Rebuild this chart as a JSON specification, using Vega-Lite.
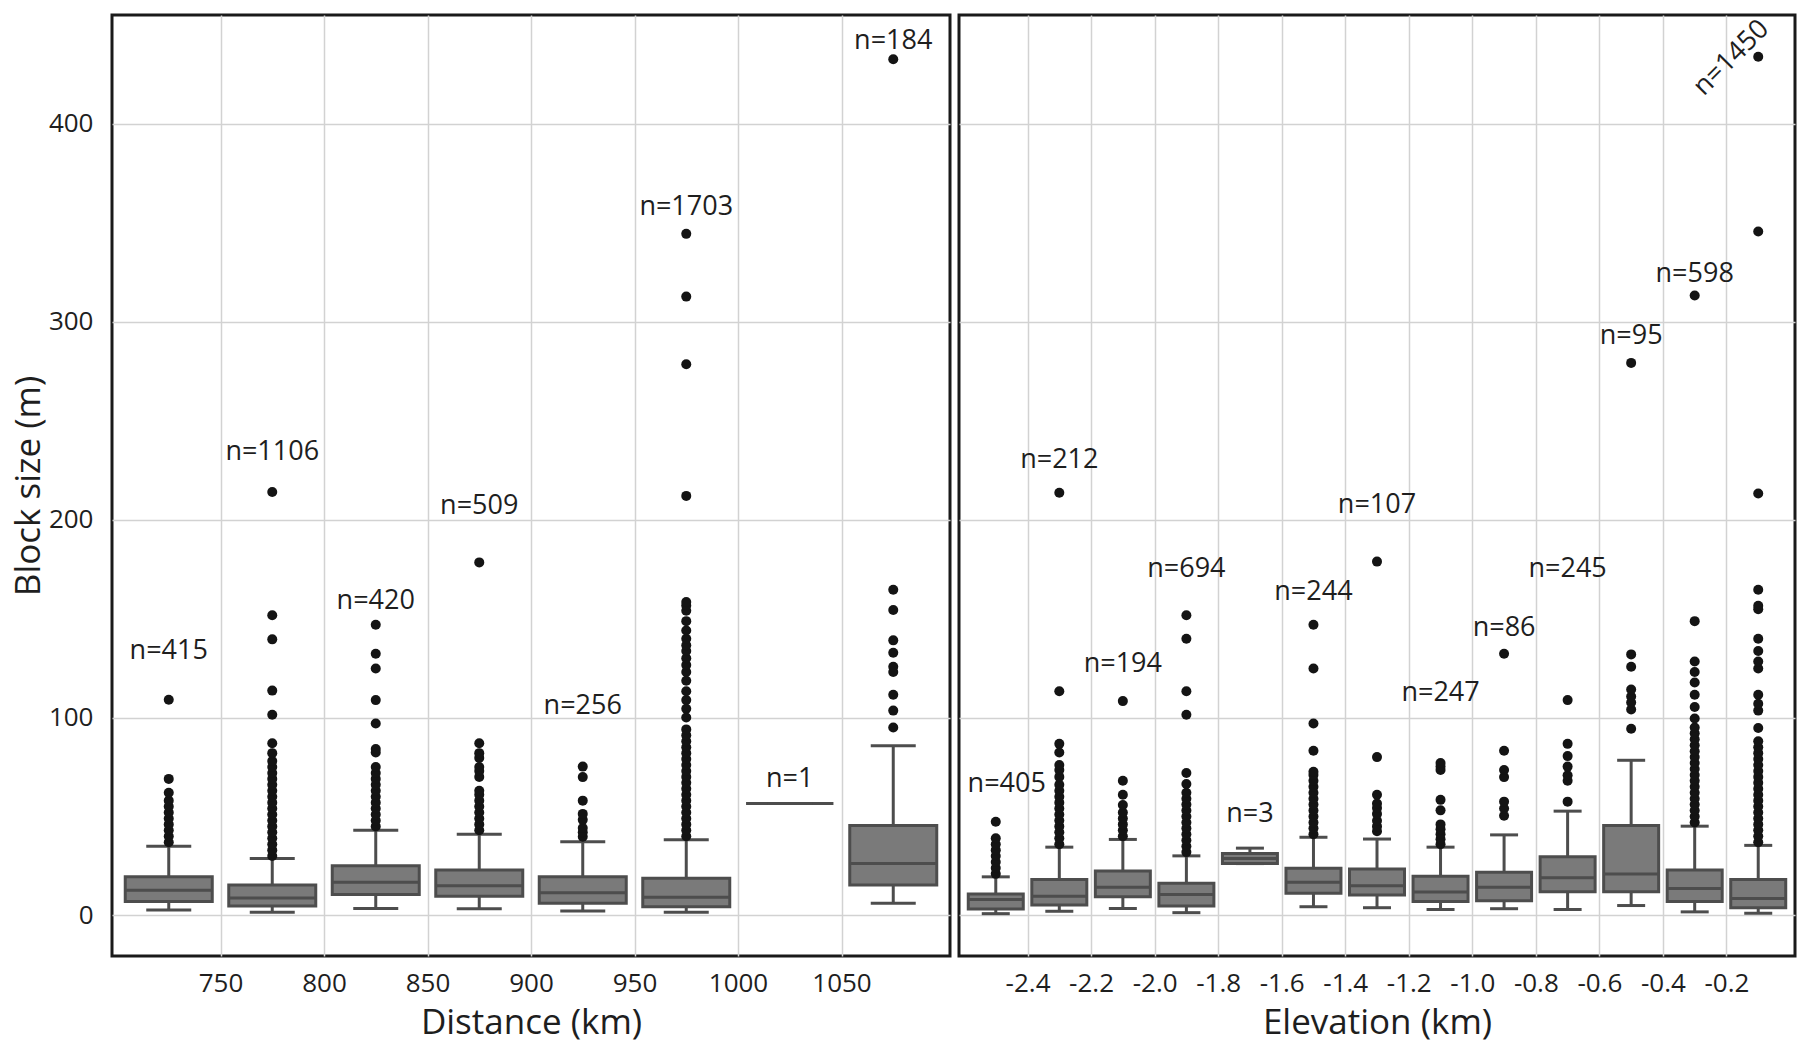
{
  "$schema": "https://vega.github.io/schema/vega-lite/v6.json",
  "background": "white",
  "padding": {"left": 9, "top": 13, "right": 0, "bottom": 0},
  "config": {
    "view": {"stroke": "#1a1a1a", "strokeWidth": 3},
    "font": "Open Sans",
    "axis": {"grid": true, "gridColor": "#d2d2d2", "gridWidth": 1.5, "domain": false, "ticks": false, "labelFont": "Open Sans", "labelFontSize": 26, "labelColor": "#1e1e1e", "titleFont": "Open Sans", "titleFontSize": 35, "titleFontWeight": "normal", "titleColor": "#1e1e1e"},
    "concat": {"spacing": 5}
  },
  "datasets": {
    "boxL": [
      {"pos": 725, "lo": 2.7, "q1": 7.1, "med": 12.7, "q3": 19.5, "hi": 34.9},
      {"pos": 775, "lo": 1.6, "q1": 4.8, "med": 8.8, "q3": 15.4, "hi": 28.8},
      {"pos": 825, "lo": 3.5, "q1": 10.6, "med": 16.8, "q3": 25.1, "hi": 43},
      {"pos": 875, "lo": 3.4, "q1": 9.7, "med": 15, "q3": 23, "hi": 41},
      {"pos": 925, "lo": 2.3, "q1": 6.2, "med": 11.5, "q3": 19.5, "hi": 37.2},
      {"pos": 975, "lo": 1.6, "q1": 4.4, "med": 9.2, "q3": 18.8, "hi": 38.2},
      {"pos": 1025, "lo": 56.5, "q1": 56.5, "med": 56.5, "q3": 56.5, "hi": 56.5},
      {"pos": 1075, "lo": 6.2, "q1": 15.4, "med": 26.2, "q3": 45.5, "hi": 85.8}
    ],
    "outL": [
      {"pos": 725, "v": 37}, {"pos": 725, "v": 40}, {"pos": 725, "v": 43}, {"pos": 725, "v": 46}, {"pos": 725, "v": 49}, {"pos": 725, "v": 52}, {"pos": 725, "v": 55}, {"pos": 725, "v": 58}, {"pos": 725, "v": 62}, {"pos": 725, "v": 69}, {"pos": 725, "v": 109},
      {"pos": 775, "v": 30}, {"pos": 775, "v": 33}, {"pos": 775, "v": 36}, {"pos": 775, "v": 39}, {"pos": 775, "v": 42}, {"pos": 775, "v": 45}, {"pos": 775, "v": 48}, {"pos": 775, "v": 51}, {"pos": 775, "v": 54}, {"pos": 775, "v": 57}, {"pos": 775, "v": 60}, {"pos": 775, "v": 63}, {"pos": 775, "v": 66}, {"pos": 775, "v": 69}, {"pos": 775, "v": 72}, {"pos": 775, "v": 75}, {"pos": 775, "v": 78}, {"pos": 775, "v": 82}, {"pos": 775, "v": 87}, {"pos": 775, "v": 101.4}, {"pos": 775, "v": 113.6}, {"pos": 775, "v": 139.5}, {"pos": 775, "v": 151.7}, {"pos": 775, "v": 214},
      {"pos": 825, "v": 45}, {"pos": 825, "v": 48}, {"pos": 825, "v": 51}, {"pos": 825, "v": 54}, {"pos": 825, "v": 57}, {"pos": 825, "v": 60}, {"pos": 825, "v": 63}, {"pos": 825, "v": 66}, {"pos": 825, "v": 69}, {"pos": 825, "v": 72}, {"pos": 825, "v": 75}, {"pos": 825, "v": 82.3}, {"pos": 825, "v": 84.1}, {"pos": 825, "v": 97}, {"pos": 825, "v": 108.8}, {"pos": 825, "v": 124.8}, {"pos": 825, "v": 132.2}, {"pos": 825, "v": 146.9},
      {"pos": 875, "v": 43}, {"pos": 875, "v": 46}, {"pos": 875, "v": 49}, {"pos": 875, "v": 52}, {"pos": 875, "v": 55}, {"pos": 875, "v": 58}, {"pos": 875, "v": 61}, {"pos": 875, "v": 63}, {"pos": 875, "v": 70}, {"pos": 875, "v": 73}, {"pos": 875, "v": 75}, {"pos": 875, "v": 79.6}, {"pos": 875, "v": 82}, {"pos": 875, "v": 87}, {"pos": 875, "v": 178.4},
      {"pos": 925, "v": 39.8}, {"pos": 925, "v": 42}, {"pos": 925, "v": 44.2}, {"pos": 925, "v": 48.3}, {"pos": 925, "v": 51.3}, {"pos": 925, "v": 58}, {"pos": 925, "v": 69.9}, {"pos": 925, "v": 75.2},
      {"pos": 975, "v": 40}, {"pos": 975, "v": 43}, {"pos": 975, "v": 46}, {"pos": 975, "v": 49}, {"pos": 975, "v": 52}, {"pos": 975, "v": 55}, {"pos": 975, "v": 58}, {"pos": 975, "v": 61}, {"pos": 975, "v": 64}, {"pos": 975, "v": 67}, {"pos": 975, "v": 70}, {"pos": 975, "v": 73}, {"pos": 975, "v": 76}, {"pos": 975, "v": 79}, {"pos": 975, "v": 82}, {"pos": 975, "v": 85}, {"pos": 975, "v": 88}, {"pos": 975, "v": 91}, {"pos": 975, "v": 94}, {"pos": 975, "v": 100}, {"pos": 975, "v": 104.4}, {"pos": 975, "v": 108.8}, {"pos": 975, "v": 113.3}, {"pos": 975, "v": 118.6}, {"pos": 975, "v": 123}, {"pos": 975, "v": 126.5}, {"pos": 975, "v": 130}, {"pos": 975, "v": 133.6}, {"pos": 975, "v": 136.5}, {"pos": 975, "v": 139.8}, {"pos": 975, "v": 144}, {"pos": 975, "v": 148.7}, {"pos": 975, "v": 154}, {"pos": 975, "v": 156.6}, {"pos": 975, "v": 158.4}, {"pos": 975, "v": 212}, {"pos": 975, "v": 278.5}, {"pos": 975, "v": 312.7}, {"pos": 975, "v": 344.4},
      {"pos": 1075, "v": 95}, {"pos": 1075, "v": 103.5}, {"pos": 1075, "v": 111.5}, {"pos": 1075, "v": 123}, {"pos": 1075, "v": 125.7}, {"pos": 1075, "v": 132.7}, {"pos": 1075, "v": 139}, {"pos": 1075, "v": 154.3}, {"pos": 1075, "v": 164.6}, {"pos": 1075, "v": 432.6}
    ],
    "labL": [
      {"pos": 725, "label": "n=415", "ly": 133.7},
      {"pos": 775, "label": "n=1106", "ly": 234},
      {"pos": 825, "label": "n=420", "ly": 158.7},
      {"pos": 875, "label": "n=509", "ly": 206.8},
      {"pos": 925, "label": "n=256", "ly": 105.9},
      {"pos": 975, "label": "n=1703", "ly": 358.2},
      {"pos": 1025, "label": "n=1", "ly": 68.7},
      {"pos": 1075, "label": "n=184", "ly": 441.7}
    ],
    "boxR": [
      {"pos": -2.5, "lo": 0.9, "q1": 3.2, "med": 8, "q3": 10.8, "hi": 19.5},
      {"pos": -2.3, "lo": 2.1, "q1": 5.3, "med": 9.7, "q3": 18.2, "hi": 34.5},
      {"pos": -2.1, "lo": 3.5, "q1": 9.4, "med": 14.2, "q3": 22.5, "hi": 38.4},
      {"pos": -1.9, "lo": 1.4, "q1": 4.8, "med": 10.6, "q3": 16.3, "hi": 30.1},
      {"pos": -1.7, "lo": 26.2, "q1": 26.2, "med": 28.8, "q3": 31.3, "hi": 34},
      {"pos": -1.5, "lo": 4.4, "q1": 11.2, "med": 16.8, "q3": 23.9, "hi": 39.5},
      {"pos": -1.3, "lo": 3.9, "q1": 10.3, "med": 15, "q3": 23.4, "hi": 38.6},
      {"pos": -1.1, "lo": 3, "q1": 7.1, "med": 11.9, "q3": 19.8, "hi": 34.5},
      {"pos": -0.9, "lo": 3.4, "q1": 7.4, "med": 14.2, "q3": 21.8, "hi": 40.7},
      {"pos": -0.7, "lo": 3, "q1": 12, "med": 19.1, "q3": 29.7, "hi": 52.7},
      {"pos": -0.5, "lo": 5, "q1": 12, "med": 20.9, "q3": 45.5, "hi": 78.4},
      {"pos": -0.3, "lo": 1.8, "q1": 7.1, "med": 13.6, "q3": 23, "hi": 45.1},
      {"pos": -0.1, "lo": 1.1, "q1": 3.9, "med": 8.5, "q3": 18.1, "hi": 35.4}
    ],
    "outR": [
      {"pos": -2.5, "v": 21}, {"pos": -2.5, "v": 24}, {"pos": -2.5, "v": 27}, {"pos": -2.5, "v": 30}, {"pos": -2.5, "v": 33}, {"pos": -2.5, "v": 36}, {"pos": -2.5, "v": 39}, {"pos": -2.5, "v": 47.3},
      {"pos": -2.3, "v": 36}, {"pos": -2.3, "v": 39}, {"pos": -2.3, "v": 42}, {"pos": -2.3, "v": 45}, {"pos": -2.3, "v": 48}, {"pos": -2.3, "v": 51}, {"pos": -2.3, "v": 54}, {"pos": -2.3, "v": 57}, {"pos": -2.3, "v": 60}, {"pos": -2.3, "v": 63}, {"pos": -2.3, "v": 66}, {"pos": -2.3, "v": 70}, {"pos": -2.3, "v": 73.5}, {"pos": -2.3, "v": 76}, {"pos": -2.3, "v": 82.3}, {"pos": -2.3, "v": 86.7}, {"pos": -2.3, "v": 113.3}, {"pos": -2.3, "v": 213.6},
      {"pos": -2.1, "v": 40}, {"pos": -2.1, "v": 43}, {"pos": -2.1, "v": 46}, {"pos": -2.1, "v": 49}, {"pos": -2.1, "v": 52}, {"pos": -2.1, "v": 55.8}, {"pos": -2.1, "v": 61}, {"pos": -2.1, "v": 68.1}, {"pos": -2.1, "v": 108.3},
      {"pos": -1.9, "v": 32}, {"pos": -1.9, "v": 35}, {"pos": -1.9, "v": 38}, {"pos": -1.9, "v": 41}, {"pos": -1.9, "v": 44}, {"pos": -1.9, "v": 47}, {"pos": -1.9, "v": 50}, {"pos": -1.9, "v": 53}, {"pos": -1.9, "v": 56}, {"pos": -1.9, "v": 59}, {"pos": -1.9, "v": 62}, {"pos": -1.9, "v": 66.4}, {"pos": -1.9, "v": 72}, {"pos": -1.9, "v": 101.4}, {"pos": -1.9, "v": 113.3}, {"pos": -1.9, "v": 139.8}, {"pos": -1.9, "v": 151.7},
      {"pos": -1.5, "v": 41}, {"pos": -1.5, "v": 44}, {"pos": -1.5, "v": 47}, {"pos": -1.5, "v": 50}, {"pos": -1.5, "v": 53}, {"pos": -1.5, "v": 56}, {"pos": -1.5, "v": 59}, {"pos": -1.5, "v": 62}, {"pos": -1.5, "v": 65}, {"pos": -1.5, "v": 68}, {"pos": -1.5, "v": 71}, {"pos": -1.5, "v": 72.6}, {"pos": -1.5, "v": 83.2}, {"pos": -1.5, "v": 97}, {"pos": -1.5, "v": 124.8}, {"pos": -1.5, "v": 146.9},
      {"pos": -1.3, "v": 42.5}, {"pos": -1.3, "v": 45}, {"pos": -1.3, "v": 47.8}, {"pos": -1.3, "v": 51.3}, {"pos": -1.3, "v": 54.3}, {"pos": -1.3, "v": 56.6}, {"pos": -1.3, "v": 61}, {"pos": -1.3, "v": 80}, {"pos": -1.3, "v": 178.8},
      {"pos": -1.1, "v": 36}, {"pos": -1.1, "v": 38.5}, {"pos": -1.1, "v": 41}, {"pos": -1.1, "v": 43.5}, {"pos": -1.1, "v": 46}, {"pos": -1.1, "v": 53.1}, {"pos": -1.1, "v": 58.4}, {"pos": -1.1, "v": 73.5}, {"pos": -1.1, "v": 75.2}, {"pos": -1.1, "v": 77},
      {"pos": -0.9, "v": 50.4}, {"pos": -0.9, "v": 54}, {"pos": -0.9, "v": 57.5}, {"pos": -0.9, "v": 69.9}, {"pos": -0.9, "v": 73.5}, {"pos": -0.9, "v": 83.2}, {"pos": -0.9, "v": 132.2},
      {"pos": -0.7, "v": 57.5}, {"pos": -0.7, "v": 68.1}, {"pos": -0.7, "v": 70.8}, {"pos": -0.7, "v": 75.2}, {"pos": -0.7, "v": 80.5}, {"pos": -0.7, "v": 86.7}, {"pos": -0.7, "v": 108.8},
      {"pos": -0.5, "v": 94.3}, {"pos": -0.5, "v": 104.1}, {"pos": -0.5, "v": 107.6}, {"pos": -0.5, "v": 110.6}, {"pos": -0.5, "v": 114.2}, {"pos": -0.5, "v": 125.7}, {"pos": -0.5, "v": 131.9}, {"pos": -0.5, "v": 279.2},
      {"pos": -0.3, "v": 47}, {"pos": -0.3, "v": 50}, {"pos": -0.3, "v": 53}, {"pos": -0.3, "v": 56}, {"pos": -0.3, "v": 59}, {"pos": -0.3, "v": 62}, {"pos": -0.3, "v": 65}, {"pos": -0.3, "v": 68}, {"pos": -0.3, "v": 71}, {"pos": -0.3, "v": 74}, {"pos": -0.3, "v": 77}, {"pos": -0.3, "v": 80}, {"pos": -0.3, "v": 83}, {"pos": -0.3, "v": 86}, {"pos": -0.3, "v": 89}, {"pos": -0.3, "v": 92}, {"pos": -0.3, "v": 95}, {"pos": -0.3, "v": 99.5}, {"pos": -0.3, "v": 105.3}, {"pos": -0.3, "v": 111.5}, {"pos": -0.3, "v": 117.7}, {"pos": -0.3, "v": 123}, {"pos": -0.3, "v": 128.3}, {"pos": -0.3, "v": 148.7}, {"pos": -0.3, "v": 313.3},
      {"pos": -0.1, "v": 37}, {"pos": -0.1, "v": 40}, {"pos": -0.1, "v": 43}, {"pos": -0.1, "v": 46}, {"pos": -0.1, "v": 49}, {"pos": -0.1, "v": 52}, {"pos": -0.1, "v": 55}, {"pos": -0.1, "v": 58}, {"pos": -0.1, "v": 61}, {"pos": -0.1, "v": 64}, {"pos": -0.1, "v": 67}, {"pos": -0.1, "v": 70}, {"pos": -0.1, "v": 73}, {"pos": -0.1, "v": 76}, {"pos": -0.1, "v": 79}, {"pos": -0.1, "v": 82}, {"pos": -0.1, "v": 85}, {"pos": -0.1, "v": 88}, {"pos": -0.1, "v": 94.7}, {"pos": -0.1, "v": 103.5}, {"pos": -0.1, "v": 107}, {"pos": -0.1, "v": 111.5}, {"pos": -0.1, "v": 124.8}, {"pos": -0.1, "v": 128.3}, {"pos": -0.1, "v": 133.6}, {"pos": -0.1, "v": 139.8}, {"pos": -0.1, "v": 154.7}, {"pos": -0.1, "v": 156.5}, {"pos": -0.1, "v": 164.6}, {"pos": -0.1, "v": 213.2}, {"pos": -0.1, "v": 345.6}, {"pos": -0.1, "v": 433.9}
    ],
    "labR": [
      {"pos": -2.5, "label": "n=405", "ly": 66.4},
      {"pos": -2.3, "label": "n=212", "ly": 230},
      {"pos": -2.1, "label": "n=194", "ly": 127.3},
      {"pos": -1.9, "label": "n=694", "ly": 174.9},
      {"pos": -1.7, "label": "n=3", "ly": 51.3},
      {"pos": -1.5, "label": "n=244", "ly": 163.3},
      {"pos": -1.3, "label": "n=107", "ly": 207.4},
      {"pos": -1.1, "label": "n=247", "ly": 112.2},
      {"pos": -0.9, "label": "n=86", "ly": 145.3},
      {"pos": -0.7, "label": "n=245", "ly": 174.9},
      {"pos": -0.5, "label": "n=95", "ly": 292.6},
      {"pos": -0.3, "label": "n=598", "ly": 324},
      {"pos": -0.1, "label": "n=1450", "ly": 433.3}
    ]
  },
  "hconcat": [
    {
      "width": 838,
      "height": 941,
      "layer": [
        {
          "data": {"name": "boxL"},
          "mark": {"type": "rule", "color": "#4d4d4d", "strokeWidth": 3},
          "encoding": {
            "x": {"field": "pos", "type": "quantitative", "title": "Distance (km)", "scale": {"domain": [700, 1100], "nice": false, "zero": false}, "axis": {"values": [750, 800, 850, 900, 950, 1000, 1050], "format": "d", "labelPadding": 14, "titlePadding": 9}},
            "y": {"field": "lo", "type": "quantitative", "title": "Block size (m)", "scale": {"domain": [-20.5, 455], "nice": false, "zero": false}, "axis": {"values": [0, 100, 200, 300, 400], "labelPadding": 19, "titlePadding": 2}},
            "y2": {"field": "hi"}
          }
        },
        {
          "data": {"name": "boxL"},
          "mark": {"type": "bar", "size": 87, "fill": "#7a7a7a", "stroke": "#4d4d4d", "strokeWidth": 3},
          "encoding": {
            "x": {"field": "pos", "type": "quantitative", "title": "Distance (km)"},
            "y": {"field": "q1", "type": "quantitative", "title": "Block size (m)"},
            "y2": {"field": "q3"}
          }
        },
        {
          "data": {"name": "boxL"},
          "mark": {"type": "tick", "orient": "horizontal", "size": 87, "thickness": 3, "color": "#4d4d4d", "opacity": 1},
          "encoding": {
            "x": {"field": "pos", "type": "quantitative", "title": "Distance (km)"},
            "y": {"field": "med", "type": "quantitative", "title": "Block size (m)"}
          }
        },
        {
          "data": {"name": "boxL"},
          "mark": {"type": "tick", "orient": "horizontal", "size": 45, "thickness": 3, "color": "#4d4d4d", "opacity": 1},
          "encoding": {
            "x": {"field": "pos", "type": "quantitative", "title": "Distance (km)"},
            "y": {"field": "lo", "type": "quantitative", "title": "Block size (m)"}
          }
        },
        {
          "data": {"name": "boxL"},
          "mark": {"type": "tick", "orient": "horizontal", "size": 45, "thickness": 3, "color": "#4d4d4d", "opacity": 1},
          "encoding": {
            "x": {"field": "pos", "type": "quantitative", "title": "Distance (km)"},
            "y": {"field": "hi", "type": "quantitative", "title": "Block size (m)"}
          }
        },
        {
          "data": {"name": "outL"},
          "mark": {"type": "circle", "size": 100, "color": "#141414", "opacity": 1},
          "encoding": {
            "x": {"field": "pos", "type": "quantitative", "title": "Distance (km)"},
            "y": {"field": "v", "type": "quantitative", "title": "Block size (m)"}
          }
        },
        {
          "data": {"name": "labL"},
          "mark": {"type": "text", "font": "Open Sans", "fontSize": 27, "color": "#1e1e1e", "baseline": "middle", "align": "center"},
          "encoding": {
            "x": {"field": "pos", "type": "quantitative", "title": "Distance (km)"},
            "y": {"field": "ly", "type": "quantitative", "title": "Block size (m)"},
            "text": {"field": "label"}
          }
        }
      ]
    },
    {
      "width": 836,
      "height": 941,
      "layer": [
        {
          "data": {"name": "boxR"},
          "mark": {"type": "rule", "color": "#4d4d4d", "strokeWidth": 3},
          "encoding": {
            "x": {"field": "pos", "type": "quantitative", "title": "Elevation (km)", "scale": {"domain": [-2.6, 0.0], "nice": false, "zero": false}, "axis": {"values": [-2.4, -2.2, -2.0, -1.8, -1.6, -1.4, -1.2, -1.0, -0.8, -0.6, -0.4, -0.2], "labelExpr": "'-' + format(abs(datum.value), '.1f')", "labelPadding": 14, "titlePadding": 9}},
            "y": {"field": "lo", "type": "quantitative", "title": null, "scale": {"domain": [-20.5, 455], "nice": false, "zero": false}, "axis": {"values": [0, 100, 200, 300, 400], "labels": false, "title": null}},
            "y2": {"field": "hi"}
          }
        },
        {
          "data": {"name": "boxR"},
          "mark": {"type": "bar", "size": 55, "fill": "#7a7a7a", "stroke": "#4d4d4d", "strokeWidth": 3},
          "encoding": {
            "x": {"field": "pos", "type": "quantitative", "title": "Elevation (km)"},
            "y": {"field": "q1", "type": "quantitative", "title": null},
            "y2": {"field": "q3"}
          }
        },
        {
          "data": {"name": "boxR"},
          "mark": {"type": "tick", "orient": "horizontal", "size": 55, "thickness": 3, "color": "#4d4d4d", "opacity": 1},
          "encoding": {
            "x": {"field": "pos", "type": "quantitative", "title": "Elevation (km)"},
            "y": {"field": "med", "type": "quantitative", "title": null}
          }
        },
        {
          "data": {"name": "boxR"},
          "mark": {"type": "tick", "orient": "horizontal", "size": 28, "thickness": 3, "color": "#4d4d4d", "opacity": 1},
          "encoding": {
            "x": {"field": "pos", "type": "quantitative", "title": "Elevation (km)"},
            "y": {"field": "lo", "type": "quantitative", "title": null}
          }
        },
        {
          "data": {"name": "boxR"},
          "mark": {"type": "tick", "orient": "horizontal", "size": 28, "thickness": 3, "color": "#4d4d4d", "opacity": 1},
          "encoding": {
            "x": {"field": "pos", "type": "quantitative", "title": "Elevation (km)"},
            "y": {"field": "hi", "type": "quantitative", "title": null}
          }
        },
        {
          "data": {"name": "outR"},
          "mark": {"type": "circle", "size": 100, "color": "#141414", "opacity": 1},
          "encoding": {
            "x": {"field": "pos", "type": "quantitative", "title": "Elevation (km)"},
            "y": {"field": "v", "type": "quantitative", "title": null}
          }
        },
        {
          "data": {"name": "labR"},
          "transform": [{"filter": "datum.label != 'n=405' && datum.label != 'n=1450'"}],
          "mark": {"type": "text", "font": "Open Sans", "fontSize": 27, "color": "#1e1e1e", "baseline": "middle", "align": "center"},
          "encoding": {
            "x": {"field": "pos", "type": "quantitative", "title": "Elevation (km)"},
            "y": {"field": "ly", "type": "quantitative", "title": null},
            "text": {"field": "label"}
          }
        },
        {
          "data": {"name": "labR"},
          "transform": [{"filter": "datum.label == 'n=405'"}],
          "mark": {"type": "text", "font": "Open Sans", "fontSize": 27, "color": "#1e1e1e", "baseline": "middle", "align": "center", "dx": 11},
          "encoding": {
            "x": {"field": "pos", "type": "quantitative", "title": "Elevation (km)"},
            "y": {"field": "ly", "type": "quantitative", "title": null},
            "text": {"field": "label"}
          }
        },
        {
          "data": {"name": "labR"},
          "transform": [{"filter": "datum.label == 'n=1450'"}],
          "mark": {"type": "text", "font": "Open Sans", "fontSize": 27, "color": "#1e1e1e", "baseline": "middle", "align": "center", "angle": 315, "dx": -19, "dy": -19},
          "encoding": {
            "x": {"field": "pos", "type": "quantitative", "title": "Elevation (km)"},
            "y": {"field": "ly", "type": "quantitative", "title": null},
            "text": {"field": "label"}
          }
        }
      ]
    }
  ]
}
